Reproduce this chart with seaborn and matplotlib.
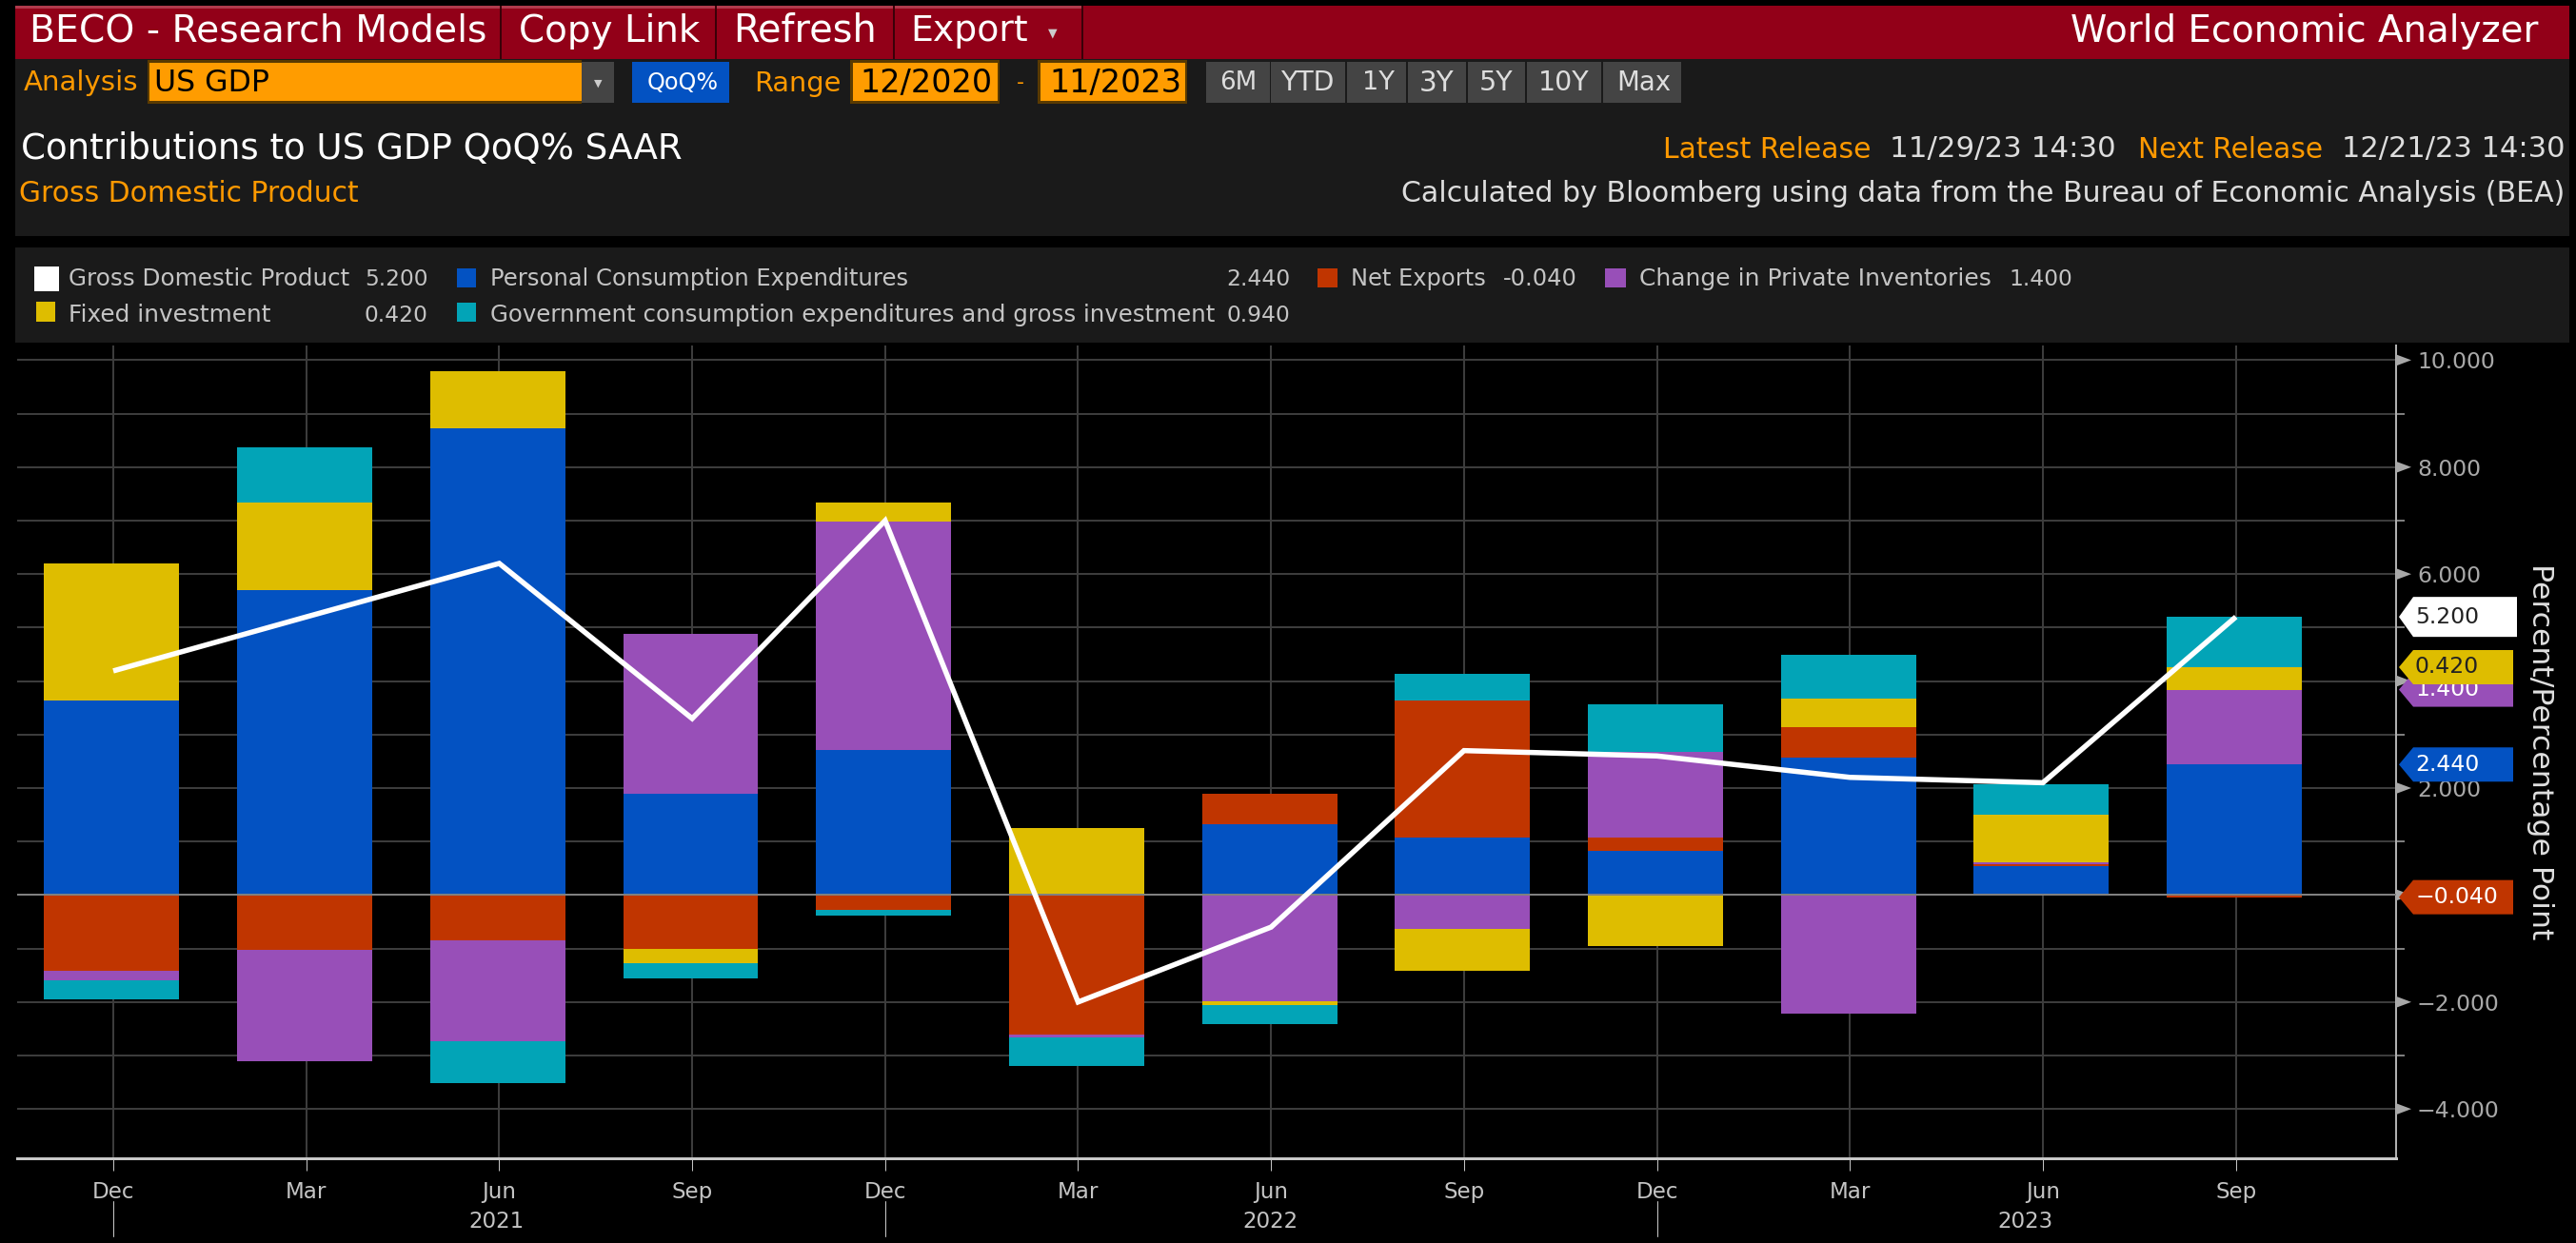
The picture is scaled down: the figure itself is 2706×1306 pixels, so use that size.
import matplotlib
matplotlib.use("Agg")
import matplotlib.pyplot as plt
from matplotlib.patches import Rectangle, Polygon
from matplotlib.ticker import FixedLocator, FuncFormatter
import numpy as np
import pandas as pd
import seaborn as sns

# ---------- data ----------
quarters = ["Dec", "Mar", "Jun", "Sep", "Dec", "Mar", "Jun", "Sep", "Dec", "Mar", "Jun", "Sep"]
gdp = [4.19, 5.20, 6.20, 3.30, 7.00, -2.00, -0.60, 2.70, 2.60, 2.20, 2.10, 5.20]
personal = [3.63, 5.70, 8.73, 1.89, 2.71, 0.00, 1.32, 1.07, 0.83, 2.57, 0.54, 2.44]
net_exports = [-1.42, -1.03, -0.85, -1.00, -0.28, -2.60, 0.57, 2.56, 0.24, 0.57, 0.04, -0.04]
inventories = [-0.18, -2.07, -1.88, 2.99, 4.27, -0.07, -1.99, -0.63, 1.61, -2.21, 0.04, 1.40]
fixed_inv = [2.57, 1.64, 1.06, -0.28, 0.36, 1.25, -0.07, -0.78, -0.96, 0.54, 0.89, 0.42]
government = [-0.35, 1.03, -0.78, -0.28, -0.11, -0.53, -0.35, 0.51, 0.89, 0.82, 0.57, 0.94]

C_BLUE, C_RED, C_PURPLE, C_YELLOW, C_TEAL = "#0352c2", "#c03500", "#984fb8", "#debd00", "#02a4b7"
ORANGE, PANEL, LIGHT = "#ff9900", "#1a1a1a", "#c4c4c4"
W, H = 2706, 1306

sns.set_theme(style="dark")
plt.rcParams["font.family"] = ["DejaVu Sans"]
px = 0.72  # points per pixel at dpi 100

fig = plt.figure(figsize=(W / 100, H / 100), dpi=100, facecolor="black")

# ---------- chart axes ----------
X0, X1, Y0, Y1 = 18, 2517, 363, 1217
ax = fig.add_axes([X0 / W, 1 - Y1 / H, (X1 - X0) / W, (Y1 - Y0) / H], facecolor="black")

xs = np.arange(len(quarters))
stack = [(personal, C_BLUE), (net_exports, C_RED), (inventories, C_PURPLE),
         (fixed_inv, C_YELLOW), (government, C_TEAL)]
pos = np.zeros(len(xs))
neg = np.zeros(len(xs))
tops = {}
for vals, col in stack:
    v = np.array(vals, dtype=float)
    base = np.where(v >= 0, pos, neg)
    df = pd.DataFrame({"q": xs - 0.008, "v": v})
    sns.barplot(data=df, x="q", y="v", bottom=base, native_scale=True, width=0.70,
                color=col, saturation=1, linewidth=0, ax=ax, zorder=3)
    tops[col] = base + v
    pos = pos + np.where(v >= 0, v, 0)
    neg = neg + np.where(v < 0, v, 0)

ax.axhline(0, color="#808080", lw=2 * px, zorder=4)
sns.lineplot(x=xs, y=gdp, color="white", lw=5.5 * px, sort=False, estimator=None, ax=ax, zorder=5,
             solid_joinstyle="miter", solid_capstyle="butt")

ax.set_xlim((X0 - 119) / 202.7, (X1 - 119) / 202.7)
ax.set_ylim((940.4 - Y1) / 56.2, (940.4 - Y0) / 56.2)
ax.set_xlabel("")
ax.set_ylabel("")
ax.set_xticks(xs)
ax.set_xticklabels(quarters)
ax.yaxis.tick_right()
ax.yaxis.set_major_locator(FixedLocator(np.arange(-4, 11, 2)))
ax.yaxis.set_minor_locator(FixedLocator(np.arange(-3, 10, 2)))
# 0 and 4 sit entirely behind the last-value tags
ax.yaxis.set_major_formatter(FuncFormatter(lambda v, _: "" if round(v) in (0, 4) else f"{v:.3f}".replace("-", "\u2212")))
ax.set_axisbelow(True)
ax.grid(True, which="both", color="#3c3c3c", lw=2 * px)
ax.tick_params(axis="x", colors=LIGHT, length=9, width=1 * px, labelsize=23 * px, pad=8, bottom=True)
ax.tick_params(axis="y", which="major", colors="#a8a8a8", length=0, labelsize=23.5 * px, pad=22 * px, right=True)
ax.tick_params(axis="y", which="minor", color="#a8a8a8", length=9 * px, width=1.5 * px, right=True)
for s in ("left", "top"):
    ax.spines[s].set_visible(False)
ax.spines["right"].set(color="#b0b0b0", lw=2 * px, visible=True)
ax.spines["bottom"].set(color="#c8c8c8", lw=3 * px, visible=True)

# ---------- overlay in pixel coordinates ----------
ov = fig.add_axes([0, 0, 1, 1], facecolor="none")
ov.set_xlim(0, W)
ov.set_ylim(H, 0)
ov.axis("off")
rend = fig.canvas.get_renderer()


def rect(x0, y0, x1, y1, col, z=1):
    ov.add_patch(Rectangle((x0, y0), x1 - x0, y1 - y0, facecolor=col, edgecolor="none", zorder=z))


def txt(x0, x1, yc, s, col, z=5, **kw):
    t = ov.text(x0, yc, s, color=col, fontsize=16, va="center", ha="left", zorder=z, **kw)
    t.set_fontsize(16 * (x1 - x0) / t.get_window_extent(rend).width)
    return t


# header bar
rect(16, 6, 2699, 62, "#920018")
rect(16, 6, 1137, 9, "#b03a4c", 2)
for sx in (526, 752, 939, 1137):
    rect(sx - 1, 6, sx + 1, 62, "#3a0008", 3)
txt(31, 511, 32, "BECO - Research Models", "white")
txt(545, 736, 33, "Copy Link", "white")
txt(770, 921, 32, "Refresh", "white")
txt(956, 1080, 33, "Export", "white")
ov.text(1106, 35, "▼", color="#cccccc", fontsize=9, ha="center", va="center", zorder=5)
txt(2175, 2669, 33, "World Economic Analyzer", "white")

# control + title panel
rect(16, 62, 2699, 248, PANEL)
txt(25, 146, 87, "Analysis", ORANGE)
rect(155, 63, 611, 109, "#5a3a00", 2)
rect(157, 66, 611, 106, "#ff9c00", 3)
txt(162, 283, 87, "US GDP", "black")
rect(611, 65, 645, 108, "#444444", 2)
ov.text(628, 88, "▼", color="#cccccc", fontsize=8, ha="center", va="center", zorder=5)
rect(664, 65, 766, 108, "#0352c2", 2)
txt(680, 755, 87, "QoQ%", "white")
txt(792, 883, 88, "Range", ORANGE)
rect(893, 63, 1050, 109, "#5a3a00", 2)
rect(896, 66, 1048, 106, "#ff9c00", 3)
txt(903, 1042, 87, "12/2020", "black")
txt(1068, 1076, 87, "-", ORANGE)
rect(1090, 63, 1247, 109, "#5a3a00", 2)
rect(1093, 66, 1245, 106, "#ff9c00", 3)
txt(1102, 1241, 87, "11/2023", "black")
buttons = [("6M", 1267, 1335, 1281, 1320), ("YTD", 1335, 1414, 1345, 1402), ("1Y", 1415, 1478, 1431, 1465),
           ("3Y", 1479, 1541, 1491, 1528), ("5Y", 1542, 1603, 1554, 1590), ("10Y", 1604, 1683, 1616, 1670),
           ("Max", 1684, 1767, 1698, 1755)]
for lab, a, b, c, d in buttons:
    rect(a, 65, b - 1, 108, "#444444", 2)
    txt(c, d, 87, lab, "#dddddd")

txt(22, 718, 157, "Contributions to US GDP QoQ% SAAR", "white")
txt(20, 377, 203, "Gross Domestic Product", ORANGE)
txt(1747, 1966, 157, "Latest Release", ORANGE)
txt(1985, 2223, 157, "11/29/23 14:30", "#dddddd")
txt(2246, 2440, 157, "Next Release", ORANGE)
txt(2460, 2695, 157, "12/21/23 14:30", "#dddddd")
txt(1472, 2695, 203, "Calculated by Bloomberg using data from the Bureau of Economic Analysis (BEA)", "#dddddd")

# legend panel
rect(16, 260, 2699, 360, PANEL)
rect(36, 280, 62, 306, "white", 2)
rect(38, 317, 58, 338, C_YELLOW, 2)
rect(480, 282, 500, 302, C_BLUE, 2)
rect(480, 318, 500, 338, C_TEAL, 2)
rect(1384, 282, 1405, 302, C_RED, 2)
rect(1686, 282, 1708, 302, C_PURPLE, 2)
txt(72, 367, 293, "Gross Domestic Product", LIGHT)
txt(383, 450, 293, f"{gdp[-1]:.3f}", LIGHT)
txt(72, 284, 331, "Fixed investment", LIGHT)
txt(383, 450, 331, f"{fixed_inv[-1]:.3f}", LIGHT)
txt(515, 955, 293, "Personal Consumption Expenditures", LIGHT)
txt(1288, 1355, 293, f"{personal[-1]:.3f}", LIGHT)
txt(515, 1273, 331, "Government consumption expenditures and gross investment", LIGHT)
txt(1288, 1355, 331, f"{government[-1]:.3f}", LIGHT)
txt(1419, 1561, 293, "Net Exports", LIGHT)
txt(1579, 1657, 293, f"{net_exports[-1]:.3f}", LIGHT)
txt(1722, 2092, 293, "Change in Private Inventories", LIGHT)
txt(2110, 2177, 293, f"{inventories[-1]:.3f}", LIGHT)


def to_py(v):
    return H - ax.transData.transform((0, v))[1]


# triangular major ticks on the value axis
for v in np.arange(-4, 11, 2):
    y = to_py(v)
    ov.add_patch(Polygon([(X1, y - 6), (X1 + 16, y), (X1, y + 6)], facecolor="#a8a8a8", edgecolor="none", zorder=2))

# last-value tags
tags = [(tops[C_PURPLE][-1], inventories[-1], C_PURPLE, "white", 2640, 18),
        (tops[C_YELLOW][-1], fixed_inv[-1], C_YELLOW, "#222222", 2640, 18),
        (tops[C_BLUE][-1], personal[-1], C_BLUE, "white", 2640, 18),
        (tops[C_RED][-1], net_exports[-1], C_RED, "white", 2640, 18),
        (gdp[-1], gdp[-1], "white", "#222222", 2644, 21)]
for i, (at, val, bg, fg, xr, hh) in enumerate(tags):
    y = to_py(at)
    z = 10 + 2 * i
    ov.add_patch(Polygon([(2520, y), (2535, y - hh), (xr, y - hh), (xr, y + hh), (2535, y + hh)],
                         facecolor=bg, edgecolor="none", zorder=z))
    ov.text(2537, y, f"{val:.3f}".replace("-", "\u2212"), color=fg, fontsize=23.5 * px,
            va="center", ha="left", zorder=z + 1)

axis_title = ov.text(2668, 790, "Percent/Percentage Point", color="#e0e0e0", fontsize=16, rotation=270,
                     va="center", ha="center", zorder=5)
axis_title.set_fontsize(16 * 395 / axis_title.get_window_extent(rend).height)

# year band under the quarter labels
year_labels = ["2021", "2022", "2023"]
year_centres = [522, 1334, 2127]
for lab, xc in zip(year_labels, year_centres):
    ov.text(xc, 1284, lab, color=LIGHT, fontsize=23 * px, ha="center", va="center", zorder=5)
for i in (0, 4, 8):
    xd = ax.transData.transform((xs[i], 0))[0]
    ov.plot([xd, xd], [1262, 1299], color="#c8c8c8", lw=1 * px, zorder=5)
ov.set_xlim(0, W)
ov.set_ylim(H, 0)

fig.savefig("out.png", dpi=100, facecolor="black")
